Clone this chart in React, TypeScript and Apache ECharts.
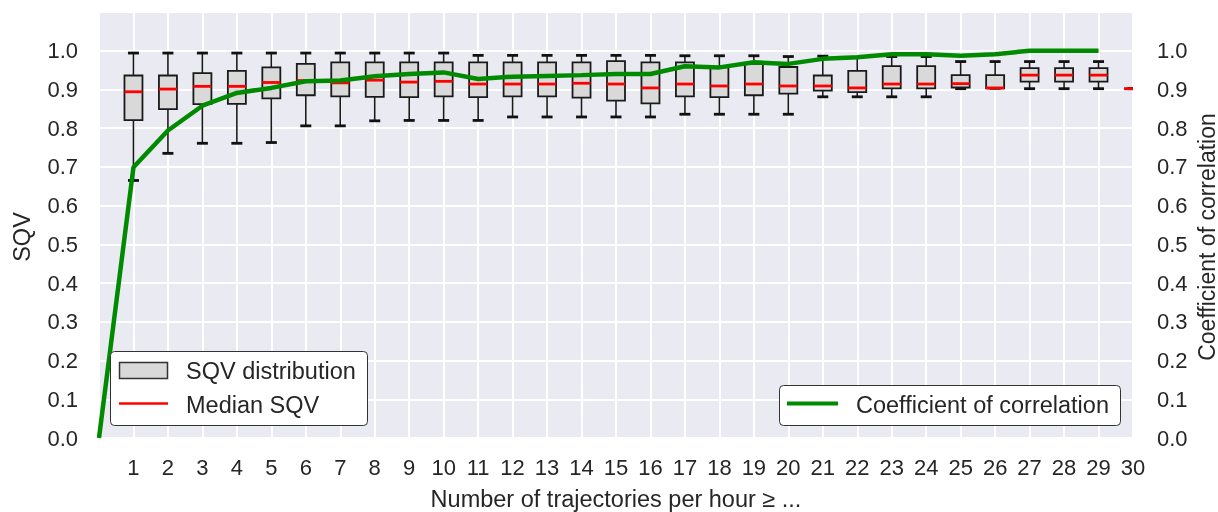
import React, { useEffect, useRef } from "react";
import * as echarts from "echarts";

// Box-plot data: one entry per "Number of trajectories per hour ≥ ..."
const categories = [1, 2, 3, 4, 5, 6, 7, 8, 9, 10, 11, 12, 13, 14, 15, 16, 17, 18, 19, 20, 21, 22, 23, 24, 25, 26, 27, 28, 29, 30];
const whiskerLow = [0.665, 0.735, 0.761, 0.761, 0.763, 0.806, 0.806, 0.819, 0.820, 0.820, 0.820, 0.829, 0.829, 0.829, 0.829, 0.829, 0.836, 0.836, 0.836, 0.836, 0.881, 0.881, 0.881, 0.881, 0.902, 0.903, 0.902, 0.902, 0.902, 0.902];
const q1 = [0.821, 0.849, 0.862, 0.863, 0.877, 0.885, 0.882, 0.881, 0.880, 0.882, 0.880, 0.882, 0.882, 0.879, 0.871, 0.864, 0.882, 0.880, 0.885, 0.889, 0.897, 0.893, 0.903, 0.903, 0.905, 0.903, 0.920, 0.920, 0.920, 0.902];
const medians = [0.894, 0.901, 0.908, 0.908, 0.918, 0.923, 0.917, 0.924, 0.919, 0.921, 0.914, 0.914, 0.914, 0.916, 0.914, 0.904, 0.914, 0.909, 0.914, 0.909, 0.909, 0.904, 0.914, 0.914, 0.915, 0.904, 0.937, 0.937, 0.937, 0.902];
const q3 = [0.936, 0.936, 0.942, 0.948, 0.957, 0.966, 0.970, 0.970, 0.970, 0.970, 0.970, 0.970, 0.970, 0.970, 0.973, 0.970, 0.970, 0.957, 0.966, 0.958, 0.936, 0.948, 0.960, 0.960, 0.937, 0.937, 0.955, 0.955, 0.955, 0.902];
const whiskerHigh = [0.994, 0.994, 0.994, 0.994, 0.994, 0.994, 0.994, 0.994, 0.994, 0.994, 0.988, 0.988, 0.988, 0.988, 0.988, 0.988, 0.987, 0.987, 0.987, 0.985, 0.986, 0.983, 0.985, 0.985, 0.972, 0.972, 0.972, 0.972, 0.972, 0.902];

// Coefficient of correlation line
const corrX = [0, 1, 2, 3, 4, 5, 6, 7, 8, 9, 10, 11, 12, 13, 14, 15, 16, 17, 18, 19, 20, 21, 22, 23, 24, 25, 26, 27, 28, 29];
const corrValues = [0.0, 0.699, 0.794, 0.858, 0.891, 0.904, 0.921, 0.923, 0.934, 0.940, 0.944, 0.927, 0.933, 0.935, 0.937, 0.940, 0.940, 0.960, 0.957, 0.970, 0.966, 0.979, 0.983, 0.991, 0.991, 0.987, 0.991, 1.0, 1.0, 1.0];

const FONT = '"Liberation Sans", Arial, sans-serif';
const TEXT = "#262626";
const GREEN = "#008A00";

export default function App() {
  const ref = useRef<HTMLDivElement>(null);

  useEffect(() => {
    if (!ref.current) return;
    const chart = echarts.init(ref.current, undefined, { renderer: "svg" });

    const boxData = categories.map((c, i) => [c, whiskerLow[i], q1[i], medians[i], q3[i], whiskerHigh[i]]);
    const lineData = corrX.map((x, i) => [x, corrValues[i]]);

    const yLabelFmt = (v: number) => (v > 1.05 ? "" : v.toFixed(1));
    const Z = 100;

    const option: any = {
      animation: false,
      textStyle: { fontFamily: FONT },
      grid: {
        left: 99,
        right: 85,
        top: 12,
        bottom: 74,
        show: true,
        backgroundColor: "#EAEAF2",
        borderWidth: 0,
        containLabel: false,
        outerBoundsMode: "none",
      },
      xAxis: {
        type: "value",
        min: 0,
        max: 30,
        interval: 1,
        name: "Number of trajectories per hour ≥ ...",
        nameLocation: "middle",
        nameGap: 49,
        nameTextStyle: { fontSize: 23.5, color: TEXT, fontFamily: FONT },
        axisLine: { show: false },
        axisTick: { show: false },
        axisLabel: {
          fontSize: 22,
          color: TEXT,
          fontFamily: FONT,
          margin: 18,
          formatter: (v: number) => (v === 0 ? "" : String(v)),
        },
        splitLine: { show: true, lineStyle: { color: "#ffffff", width: 2 } },
      },
      yAxis: [
        {
          type: "value",
          min: 0,
          max: 1.1,
          interval: 0.1,
          name: "SQV",
          nameLocation: "middle",
          nameRotate: 90,
          nameGap: 65,
          nameTextStyle: { fontSize: 23.5, color: TEXT, fontFamily: FONT, padding: [0, 24, 0, 0] },
          axisLine: { show: false },
          axisTick: { show: false },
          axisLabel: { fontSize: 22, color: TEXT, fontFamily: FONT, margin: 21, formatter: yLabelFmt },
          splitLine: { show: true, lineStyle: { color: "#ffffff", width: 2 } },
        },
        {
          type: "value",
          min: 0,
          max: 1.1,
          interval: 0.1,
          position: "right",
          name: "Coefficient of correlation",
          nameLocation: "middle",
          nameRotate: 90,
          nameGap: 62,
          nameMoveOverlap: false,
          nameTextStyle: { fontSize: 23, lineHeight: 23, color: TEXT, fontFamily: FONT, padding: [0, 24, 0, 0] },
          axisLine: { show: false },
          axisTick: { show: false },
          axisLabel: { fontSize: 22, color: TEXT, fontFamily: FONT, margin: 24, formatter: yLabelFmt },
          splitLine: { show: false },
        },
      ],
      series: [
        {
          name: "SQV distribution",
          type: "custom",
          clip: true,
          xAxisIndex: 0,
          yAxisIndex: 0,
          encode: { x: 0, y: [1, 2, 3, 4, 5] },
          data: boxData,
          z: 2,
          renderItem: (params: any, api: any) => {
            const x = api.value(0);
            const cx = api.coord([x, 0])[0];
            const yLow = api.coord([x, api.value(1)])[1];
            const yQ1 = api.coord([x, api.value(2)])[1];
            const yMed = api.coord([x, api.value(3)])[1];
            const yQ3 = api.coord([x, api.value(4)])[1];
            const yHigh = api.coord([x, api.value(5)])[1];
            const hw = 9;
            const cw = 5.5;
            const dark = "#1a1a1a";
            return {
              type: "group",
              children: [
                { type: "line", shape: { x1: cx, y1: yHigh, x2: cx, y2: yQ3 }, style: { stroke: dark, lineWidth: 1.6 } },
                { type: "line", shape: { x1: cx, y1: yQ1, x2: cx, y2: yLow }, style: { stroke: dark, lineWidth: 1.6 } },
                { type: "line", shape: { x1: cx - cw, y1: yHigh, x2: cx + cw, y2: yHigh }, style: { stroke: "#111", lineWidth: 2.8 } },
                { type: "line", shape: { x1: cx - cw, y1: yLow, x2: cx + cw, y2: yLow }, style: { stroke: "#111", lineWidth: 2.8 } },
                {
                  type: "rect",
                  shape: { x: cx - hw, y: yQ3, width: hw * 2, height: yQ1 - yQ3 },
                  style: { fill: "#D9D9D9", stroke: dark, lineWidth: 1.8 },
                },
                { type: "line", shape: { x1: cx - hw, y1: yMed, x2: cx + hw, y2: yMed }, style: { stroke: "#FF0000", lineWidth: 2.8 } },
              ],
            };
          },
        },
        {
          name: "Coefficient of correlation",
          type: "line",
          xAxisIndex: 0,
          yAxisIndex: 1,
          data: lineData,
          showSymbol: false,
          symbol: "none",
          z: 5,
          lineStyle: { color: GREEN, width: 4.5 },
          itemStyle: { color: GREEN },
        },
      ],
      graphic: [
        {
          type: "rect",
          z: Z,
          shape: { x: 110.5, y: 351.5, width: 257, height: 74, r: 4 },
          style: { fill: "#ffffff", stroke: "#333", lineWidth: 1 },
        },
        {
          type: "rect",
          z: Z + 1,
          shape: { x: 119.5, y: 362.5, width: 48, height: 16 },
          style: { fill: "#D9D9D9", stroke: "#333", lineWidth: 1.5 },
        },
        {
          type: "text",
          z: Z + 1,
          x: 186,
          y: 371,
          style: { text: "SQV distribution", fill: TEXT, font: `23.5px ${FONT}`, verticalAlign: "middle" },
        },
        {
          type: "line",
          z: Z + 1,
          shape: { x1: 119, y1: 403.5, x2: 168, y2: 403.5 },
          style: { stroke: "#FF0000", lineWidth: 2.5 },
        },
        {
          type: "text",
          z: Z + 1,
          x: 186,
          y: 405,
          style: { text: "Median SQV", fill: TEXT, font: `23.5px ${FONT}`, verticalAlign: "middle" },
        },
        {
          type: "rect",
          z: Z,
          shape: { x: 779.5, y: 385.5, width: 341, height: 40, r: 4 },
          style: { fill: "#ffffff", stroke: "#333", lineWidth: 1 },
        },
        {
          type: "line",
          z: Z + 1,
          shape: { x1: 787, y1: 403.5, x2: 838, y2: 403.5 },
          style: { stroke: GREEN, lineWidth: 4 },
        },
        {
          type: "text",
          z: Z + 1,
          x: 856,
          y: 405,
          style: { text: "Coefficient of correlation", fill: TEXT, font: `23.5px ${FONT}`, verticalAlign: "middle" },
        },
      ],
    };

    chart.setOption(option);
    return () => chart.dispose();
  }, []);

  return <div ref={ref} style={{ position: "fixed", left: 0, top: 0, width: 1218, height: 512 }} />;
}
